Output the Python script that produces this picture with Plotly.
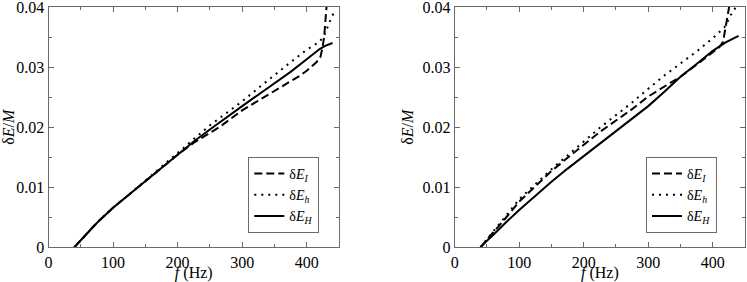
import plotly.graph_objects as go

# ---------------- data ----------------
# Left panel
fL_I = [40, 50, 60, 70, 80, 90, 100, 125, 150, 175, 200, 225, 250, 266, 300, 325, 350, 375, 390, 400, 415, 421,
        424, 427, 429, 431]
EL_I = [0, 0.0012, 0.0024, 0.0035, 0.0046, 0.0056, 0.0066, 0.0088, 0.0110, 0.0132, 0.0154, 0.0174, 0.0190, 0.0201,
        0.0228, 0.0244, 0.0260, 0.0275, 0.0286, 0.0294, 0.0308, 0.0316, 0.0330, 0.0350, 0.0375, 0.0405]
fL_h = [40, 50, 60, 70, 80, 90, 100, 125, 150, 175, 200, 225, 250, 275, 300, 325, 350, 375, 400, 420, 428, 433,
        438, 444]
EL_h = [0, 0.0012, 0.0024, 0.0035, 0.0046, 0.0056, 0.0066, 0.0088, 0.0111, 0.0135, 0.0158, 0.0181, 0.0203, 0.0223,
        0.0243, 0.0265, 0.0287, 0.0308, 0.0329, 0.0342, 0.0355, 0.0370, 0.0382, 0.0395]
fL_H = [40, 50, 60, 70, 80, 90, 100, 125, 150, 175, 200, 225, 250, 275, 300, 325, 350, 375, 400, 420, 430, 440]
EL_H = [0, 0.0012, 0.0024, 0.0035, 0.0046, 0.0056, 0.0066, 0.0088, 0.0110, 0.0132, 0.0155, 0.0176, 0.0196, 0.0216,
        0.0235, 0.0254, 0.0273, 0.0292, 0.0313, 0.0330, 0.0336, 0.0340]

# Right panel
fR_I = [40, 45, 50, 60, 70, 80, 100, 125, 150, 175, 200, 225, 250, 275, 300, 325, 350, 375, 400, 410, 416, 420,
        424, 427]
ER_I = [0, 0.0007, 0.0013, 0.0025, 0.0037, 0.0050, 0.0076, 0.0102, 0.0127, 0.0149, 0.0171, 0.0192, 0.0211, 0.0230,
        0.0251, 0.0268, 0.0284, 0.0304, 0.0325, 0.0333, 0.0342, 0.0365, 0.0392, 0.0410]
fR_h = [40, 50, 60, 80, 100, 125, 150, 175, 200, 225, 250, 275, 300, 325, 350, 375, 400, 418, 423, 428, 433, 437]
ER_h = [0, 0.0013, 0.0026, 0.0053, 0.0080, 0.0105, 0.0130, 0.0153, 0.0176, 0.0199, 0.0220, 0.0241, 0.0264, 0.0286,
        0.0306, 0.0326, 0.0348, 0.0366, 0.0376, 0.0387, 0.0395, 0.0402]
fR_H = [40, 45, 50, 60, 70, 80, 100, 125, 150, 175, 200, 225, 250, 275, 300, 325, 350, 375, 400, 420, 440]
ER_H = [0, 0.0006, 0.0011, 0.0021, 0.0032, 0.0042, 0.0062, 0.0086, 0.0109, 0.0131, 0.0152, 0.0173, 0.0194, 0.0214,
        0.0235, 0.0259, 0.0284, 0.0305, 0.0327, 0.0341, 0.0352]

x_ticks = [0, 100, 200, 300, 400]
x_ticklabels = ["0", "100", "200", "300", "400"]
y_ticks = [0, 0.01, 0.02, 0.03, 0.04]
y_ticklabels = ["0", "0.01", "0.02", "0.03", "0.04"]

names = ["δ<i>E</i><sub><i>I</i></sub>", "δ<i>E</i><sub><i>h</i></sub>", "δ<i>E</i><sub><i>H</i></sub>"]
dashes = ["8px,4px", "2px,5px", "solid"]

W, H = 747, 282
FONT = "Liberation Serif"
AX = "#6a6a6a"

def px_x(p):
    return p / W

def px_y(p):
    return (H - p) / H

fig = go.Figure()

panels = [
    ((fL_I, EL_I), (fL_h, EL_h), (fL_H, EL_H)),
    ((fR_I, ER_I), (fR_h, ER_h), (fR_H, ER_H)),
]
axes = [("x", "y", "legend"), ("x2", "y2", "legend2")]

for p, series in enumerate(panels):
    xa, ya, lg = axes[p]
    for k, (fx, ey) in enumerate(series):
        fig.add_trace(go.Scatter(
            x=fx, y=ey, mode="lines", name=names[k],
            line=dict(color="black", width=2, dash=dashes[k]),
            xaxis=xa, yaxis=ya, legend=lg,
        ))

ydom = [px_y(247.3), px_y(7)]
xdoms = [[px_x(48.5), px_x(339)], [px_x(454.7), px_x(745)]]

axcommon = dict(
    showline=True, linecolor=AX, linewidth=1, mirror="allticks",
    ticks="inside", ticklen=5, tickcolor=AX, showgrid=False, zeroline=False,
    tickfont=dict(family=FONT, size=16, color="black"), automargin=False,
    ticklabeloverflow="allow",
)

layout = dict(
    width=W, height=H, margin=dict(l=0, r=0, t=0, b=0, autoexpand=False),
    paper_bgcolor="white", plot_bgcolor="white",
    font=dict(family=FONT, size=15, color="black"),
)

for i, suf in enumerate(["", "2"]):
    layout["xaxis" + suf] = dict(
        axcommon, domain=xdoms[i], range=[0, 450], tickvals=x_ticks, ticktext=x_ticklabels,
        minor=dict(ticks="inside", ticklen=3, dtick=50, tickcolor=AX),
        anchor="y" + suf,
        title=dict(text="<i>f</i> (Hz)", font=dict(family=FONT, size=16), standoff=0),
    )
    layout["yaxis" + suf] = dict(
        axcommon, domain=ydom, range=[0, 0.04], tickvals=y_ticks, ticktext=y_ticklabels,
        minor=dict(ticks="inside", ticklen=3, dtick=0.005, tickcolor=AX),
        anchor="x" + suf,
        title=dict(text="δ<i>E</i>/<i>M</i>", font=dict(family=FONT, size=16), standoff=4),
    )

legcommon = dict(
    bgcolor="white", bordercolor=AX, borderwidth=1,
    font=dict(family=FONT, size=14, color="black"),
    itemwidth=30, tracegroupgap=0, yanchor="top", xanchor="right",
)
layout["legend"] = dict(legcommon, x=px_x(319.3), y=px_y(157))
layout["legend2"] = dict(legcommon, x=px_x(717), y=px_y(157))

fig.update_layout(**layout)
fig.write_html("out.html", config={"displayModeBar": False},
               post_script="document.body.style.margin='0px';")
